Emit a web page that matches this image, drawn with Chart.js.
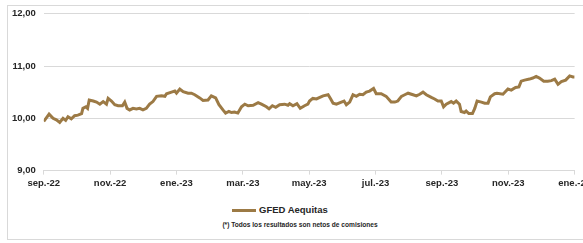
<!DOCTYPE html>
<html>
<head>
<meta charset="utf-8">
<script src="https://cdn.jsdelivr.net/npm/chart.js@4.4.0/dist/chart.umd.min.js"></script>
<style>
  html, body { margin:0; padding:0; width:583px; height:243px; overflow:hidden; background:#fff; }
  #frame { position:absolute; left:7px; top:5px; width:640px; height:235px; border:1px solid #d9d9d9; box-sizing:border-box; }
  #wrap { position:absolute; left:4px; top:0px; width:590px; height:192px; }
  #legend { position:absolute; left:232px; top:204px; height:12px; font:bold 9.5px "Liberation Sans", Arial, sans-serif; color:#262626; white-space:nowrap; }
  #legend .swatch { display:inline-block; width:24px; height:3px; background:#9C7A45; vertical-align:middle; margin-right:3px; }
  #note { position:absolute; left:200px; width:200px; top:221px; text-align:center; font:bold 6.6px "Liberation Sans", Arial, sans-serif; color:#262626; white-space:nowrap; }
</style>
</head>
<body>
<div id="frame"></div>
<div id="wrap"><canvas id="c"></canvas></div>
<div id="legend"><span class="swatch"></span><span>GFED Aequitas</span></div>
<div id="note">(*) Todos los resultados son netos de comisiones</div>
<script>
// Tick labels every two months starting sep.-22
const tickLabels = ["sep.-22","nov.-22","ene.-23","mar.-23","may.-23","jul.-23","sep.-23","nov.-23","ene.-24"];
const yTicks = [9, 10, 11, 12];
const seriesName = "GFED Aequitas";
// Position in months since 1 sep 2022
const monthPos = [0.00,0.16,0.28,0.38,0.48,0.58,0.66,0.73,0.83,0.93,1.03,1.14,1.18,1.27,1.32,1.37,1.49,1.59,1.69,1.79,1.89,1.94,2.04,2.14,2.24,2.37,2.44,2.51,2.59,2.69,2.79,2.89,2.99,3.09,3.19,3.29,3.40,3.55,3.65,3.70,3.85,3.95,4.00,4.10,4.20,4.35,4.45,4.55,4.70,4.80,4.95,5.05,5.18,5.28,5.40,5.48,5.58,5.66,5.75,5.85,5.96,6.06,6.16,6.31,6.46,6.56,6.71,6.79,6.89,6.99,7.11,7.26,7.36,7.41,7.51,7.63,7.73,7.86,7.96,8.01,8.11,8.22,8.32,8.42,8.57,8.64,8.72,8.82,8.97,9.05,9.12,9.22,9.32,9.42,9.52,9.62,9.72,9.82,9.94,10.02,10.17,10.32,10.47,10.58,10.67,10.78,10.88,10.98,11.13,11.23,11.33,11.43,11.53,11.68,11.78,11.88,11.98,12.05,12.13,12.28,12.35,12.43,12.53,12.58,12.68,12.73,12.81,12.92,12.99,13.06,13.19,13.29,13.39,13.46,13.59,13.66,13.84,13.99,14.09,14.22,14.32,14.39,14.49,14.64,14.74,14.84,14.94,15.07,15.19,15.30,15.40,15.50,15.60,15.73,15.85,15.95,16.00];
const gfedValues = [9.94,10.08,10.00,9.97,9.92,10.00,9.96,10.03,9.99,10.05,10.06,10.09,10.19,10.22,10.19,10.35,10.33,10.31,10.27,10.32,10.27,10.38,10.33,10.26,10.24,10.24,10.31,10.19,10.16,10.19,10.18,10.19,10.16,10.19,10.27,10.32,10.42,10.43,10.42,10.47,10.50,10.52,10.48,10.56,10.51,10.48,10.48,10.45,10.39,10.34,10.35,10.43,10.39,10.26,10.16,10.10,10.13,10.11,10.12,10.10,10.22,10.27,10.24,10.25,10.30,10.27,10.22,10.18,10.24,10.21,10.26,10.27,10.25,10.28,10.24,10.28,10.19,10.24,10.27,10.33,10.38,10.37,10.40,10.43,10.45,10.38,10.29,10.27,10.31,10.33,10.26,10.31,10.45,10.42,10.46,10.45,10.50,10.52,10.57,10.47,10.47,10.42,10.31,10.31,10.33,10.42,10.45,10.48,10.45,10.43,10.46,10.50,10.45,10.40,10.37,10.33,10.33,10.22,10.27,10.32,10.29,10.33,10.27,10.13,10.11,10.14,10.09,10.09,10.19,10.33,10.31,10.29,10.29,10.41,10.47,10.48,10.46,10.56,10.54,10.59,10.60,10.71,10.73,10.75,10.77,10.80,10.77,10.71,10.71,10.72,10.75,10.65,10.70,10.73,10.81,10.79,10.79];

const points = monthPos.map((m, i) => ({ x: m, y: gfedValues[i] }));
const tickFont = { family: "'Liberation Sans', Arial, sans-serif", size: 9.5, weight: 'bold' };

new Chart(document.getElementById('c'), {
  type: 'line',
  data: { datasets: [{ label: seriesName, data: points, borderColor: '#9C7A45', borderWidth: 3, pointRadius: 0, tension: 0, fill: false }] },
  options: {
    responsive: true, maintainAspectRatio: false, animation: false,
    layout: { padding: { top: 2, right: 19, left: 0, bottom: 0 } },
    plugins: { legend: { display: false }, tooltip: { enabled: false } },
    scales: {
      x: {
        type: 'linear', min: 0, max: 16,
        afterBuildTicks: (s) => { s.ticks = tickLabels.map((_, i) => ({ value: i * 2 })); },
        ticks: { autoSkip: false, maxRotation: 0, color: '#262626', font: tickFont, padding: 3,
                 callback: (v) => tickLabels[Math.round(v / 2)] },
        grid: { drawOnChartArea: false, drawTicks: true, tickLength: 4, color: '#d9d9d9' },
        border: { display: true, color: '#d9d9d9' }
      },
      y: {
        min: 9, max: 12,
        afterBuildTicks: (s) => { s.ticks = yTicks.map(v => ({ value: v })); },
        ticks: { color: '#262626', font: tickFont, padding: 8,
                 callback: (v) => v.toFixed(2).replace('.', ',') },
        grid: { color: '#d9d9d9', drawTicks: false },
        border: { display: false }
      }
    }
  }
});
</script>
</body>
</html>
